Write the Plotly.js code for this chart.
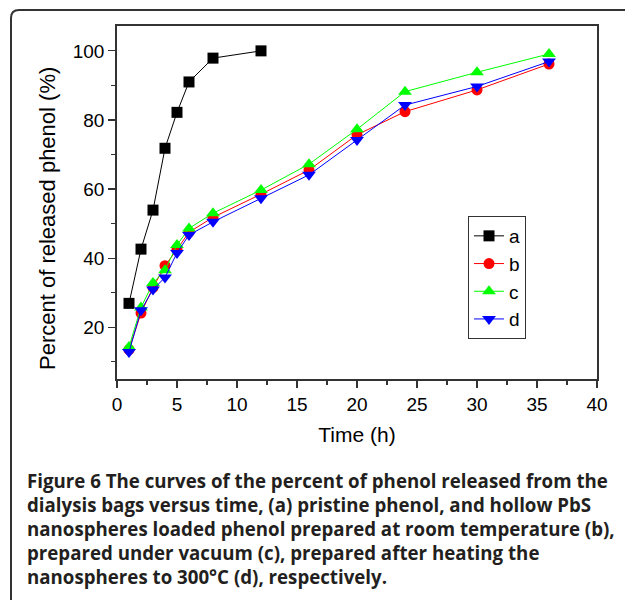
<!DOCTYPE html>
<html>
<head>
<meta charset="utf-8">
<script src="https://cdn.plot.ly/plotly-3.0.1.min.js"></script>
<style>html,body{margin:0;padding:0;background:#fff;}#chart{width:625px;height:600px;}</style>
</head>
<body>
<div id="chart"></div>
<script>
// ---- data ----
var timeA = [1, 2, 3, 4, 5, 6, 8, 12];
var releaseA = [26.9, 42.6, 53.9, 71.8, 82.2, 91.0, 97.9, 100];
var timeBCD = [1, 2, 3, 4, 5, 6, 8, 12, 16, 20, 24, 30, 36];
var releaseB = [13.5, 24.1, 31.5, 37.8, 42.5, 47.5, 51.8, 58.5, 65.5, 75.7, 82.4, 88.7, 96.2];
var releaseC = [14.3, 25.7, 32.8, 36.5, 43.8, 48.6, 53.0, 59.7, 67.2, 77.3, 88.2, 93.8, 99.1];
var releaseD = [12.8, 24.9, 30.9, 34.4, 41.5, 46.7, 50.5, 57.3, 64.1, 74.2, 84.3, 89.7, 96.9];
var seriesNames = ['a', 'b', 'c', 'd'];
var xTitle = 'Time (h)';
var yTitle = 'Percent of released phenol (%)';
var captionLines = [
  'Figure 6 The curves of the percent of phenol released from the',
  'dialysis bags versus time, (a) pristine phenol, and hollow PbS',
  'nanospheres loaded phenol prepared at room temperature (b),',
  'prepared under vacuum (c), prepared after heating the',
  'nanospheres to 300°C (d), respectively.'
];

// ---- layout helpers (pixel -> paper) ----
var W = 625, H = 600;
var mL = 117, mR = 28, mT = 26, mB = 221;
var pw = W - mL - mR, ph = H - mT - mB;
function px(x) { return (x - mL) / pw; }
function py(y) { return (H - mB - y) / ph; }

var sans = 'Arial, "Liberation Sans", Helvetica, sans-serif';
var tickFont = {family: sans, size: 19, color: '#000'};
var titleFont = {family: sans, size: 21, color: '#000'};

var traces = [
  {x: timeA, y: releaseA, name: seriesNames[0], mode: 'lines+markers',
   line: {color: '#000000', width: 1}, marker: {symbol: 'square', size: 11, color: '#000000'}},
  {x: timeBCD, y: releaseB, name: seriesNames[1], mode: 'lines+markers',
   line: {color: '#ff0000', width: 1}, marker: {symbol: 'circle', size: 11, color: '#ff0000'}},
  {x: timeBCD, y: releaseC, name: seriesNames[2], mode: 'lines+markers',
   line: {color: '#00ff00', width: 1}, marker: {symbol: 'triangle-up', size: 12, color: '#00ff00'}},
  {x: timeBCD, y: releaseD, name: seriesNames[3], mode: 'lines+markers',
   line: {color: '#0000ff', width: 1}, marker: {symbol: 'triangle-down', size: 12, color: '#0000ff'}}
];

var annotations = captionLines.map(function (t, i) {
  return {
    xref: 'paper', yref: 'paper', x: px(25), y: py(480 + i * 24.2),
    xanchor: 'left', yanchor: 'middle', showarrow: false, align: 'left',
    text: t,
    font: {family: '"Open Sans", sans-serif', size: 18.7, weight: 700, color: '#231f20'}
  };
});
// y-axis title, placed as in the reference (slightly below the axis centre)
annotations.push({
  xref: 'paper', yref: 'paper', x: px(47), y: py(219),
  xanchor: 'center', yanchor: 'middle', showarrow: false, textangle: -90,
  text: yTitle, font: {family: sans, size: 22, color: '#000'}
});

var framePath = 'M ' + px(11) + ',' + py(610) +
  ' L ' + px(11) + ',' + py(18) +
  ' Q ' + px(11) + ',' + py(10) + ' ' + px(19) + ',' + py(10) +
  ' L ' + px(630) + ',' + py(10);

var layout = {
  width: W, height: H, autosize: false,
  margin: {l: mL, r: mR, t: mT, b: mB, pad: 0},
  paper_bgcolor: '#ffffff', plot_bgcolor: '#ffffff',
  font: {family: sans},
  showlegend: true,
  legend: {
    x: px(468), y: py(216), xanchor: 'left', yanchor: 'top',
    bgcolor: '#ffffff', bordercolor: '#333333', borderwidth: 1,
    font: {family: sans, size: 19, color: '#000'},
    tracegroupgap: 0, itemwidth: 30
  },
  xaxis: {
    range: [0, 40], tick0: 0, dtick: 5, ticks: 'outside', ticklen: 7, tickwidth: 1.2, tickcolor: '#333',
    minor: {dtick: 2.5, ticks: 'outside', ticklen: 4, tickwidth: 1.2, tickcolor: '#333'},
    showline: true, linecolor: '#333', linewidth: 1.8, mirror: true,
    showgrid: false, zeroline: false, tickfont: tickFont,
    title: {text: xTitle, font: titleFont, standoff: 14}
  },
  yaxis: {
    range: [5, 107.2], tick0: 0, dtick: 20, ticks: 'outside', ticklen: 7, tickwidth: 1.2, tickcolor: '#333',
    minor: {dtick: 10, ticks: 'outside', ticklen: 4, tickwidth: 1.2, tickcolor: '#333'},
    showline: true, linecolor: '#333', linewidth: 1.8, mirror: true,
    showgrid: false, zeroline: false, tickfont: tickFont
  },
  shapes: [{type: 'path', xref: 'paper', yref: 'paper', path: framePath,
            line: {color: '#333333', width: 2}}],
  annotations: annotations
};

Plotly.newPlot('chart', traces, layout, {displayModeBar: false, staticPlot: true});
</script>
</body>
</html>
